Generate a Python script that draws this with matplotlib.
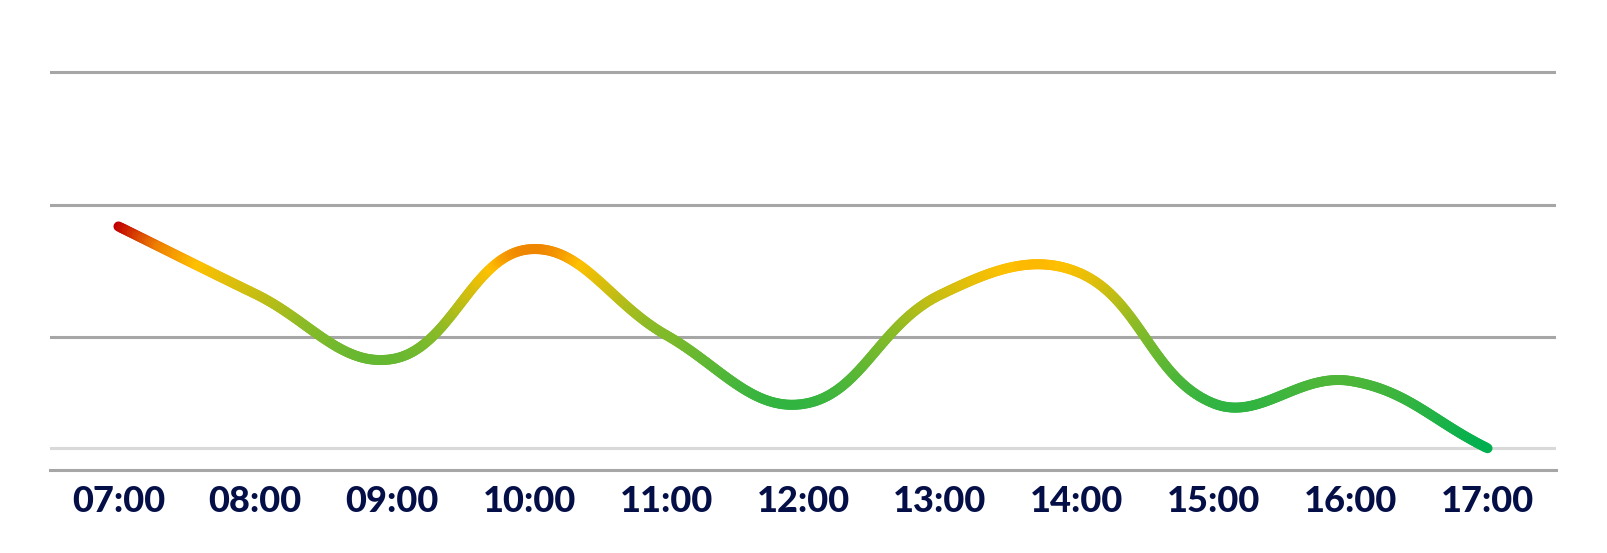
import numpy as np
import matplotlib
matplotlib.use("Agg")
import matplotlib.pyplot as plt
from matplotlib.collections import LineCollection
from matplotlib.colors import LinearSegmentedColormap, Normalize

hours = ['07:00', '08:00', '09:00', '10:00', '11:00', '12:00',
         '13:00', '14:00', '15:00', '16:00', '17:00']
values = [1.835, 1.327, 0.837, 1.663, 1.018, 0.499, 1.319, 1.494, 0.503, 0.672, 0.166]
grid_levels = [1, 2, 3]

tension = 0.4


def spline_points(px, py, t=0.4, n=60):
    # chart.js style cubic spline, computed in pixel space
    k = len(px)
    cps = []
    for i in range(k):
        prev = (px[max(i - 1, 0)], py[max(i - 1, 0)])
        cur = (px[i], py[i])
        nxt = (px[min(i + 1, k - 1)], py[min(i + 1, k - 1)])
        d01 = np.hypot(cur[0] - prev[0], cur[1] - prev[1])
        d12 = np.hypot(nxt[0] - cur[0], nxt[1] - cur[1])
        s01 = d01 / (d01 + d12) if d01 + d12 else 0
        s12 = d12 / (d01 + d12) if d01 + d12 else 0
        fa = t * s01
        fb = t * s12
        cp_prev = (cur[0] - fa * (nxt[0] - prev[0]), cur[1] - fa * (nxt[1] - prev[1]))
        cp_next = (cur[0] + fb * (nxt[0] - prev[0]), cur[1] + fb * (nxt[1] - prev[1]))
        cps.append((cp_prev, cp_next))
    xs, ys = [], []
    s = np.linspace(0, 1, n)
    for i in range(k - 1):
        p0 = np.array([px[i], py[i]])
        p1 = np.array(cps[i][1])
        p2 = np.array(cps[i + 1][0])
        p3 = np.array([px[i + 1], py[i + 1]])
        b = (np.outer((1 - s) ** 3, p0) + np.outer(3 * (1 - s) ** 2 * s, p1)
             + np.outer(3 * (1 - s) * s ** 2, p2) + np.outer(s ** 3, p3))
        if i > 0:
            b = b[1:]
        xs.extend(b[:, 0])
        ys.extend(b[:, 1])
    return np.array(xs), np.array(ys)


fig = plt.figure(figsize=(16.07, 5.53), dpi=100)
ax = fig.add_axes([50 / 1607, 1 - 470.3 / 553, 1506 / 1607, 470.3 / 553])
ax.set_xlim(-0.5, len(hours) - 0.5)
ax.set_ylim(0, 3.539)

for g in grid_levels:
    ax.axhline(g, color='#a6a6a6', lw=2.2, zorder=1)
ax.axhline(min(values), color='#d9d9d9', lw=2.2, zorder=1)

# smooth curve built in display coords, then mapped back to data
x = np.arange(len(hours))
pix = ax.transData.transform(np.column_stack([x, values]))
sx, sy = spline_points(pix[:, 0], pix[:, 1], tension)
curve = ax.transData.inverted().transform(np.column_stack([sx, sy]))

pts = curve.reshape(-1, 1, 2)
segs = np.concatenate([pts[:-1], pts[1:]], axis=1)
mid = (curve[:-1, 1] + curve[1:, 1]) / 2

cmap = LinearSegmentedColormap.from_list(
    'heat', [(0, '#00b050'), (0.55, '#8cbb26'), (0.82, '#ffc000'), (0.91, '#ed7d00'), (1, '#c00000')])
lc = LineCollection(segs, cmap=cmap, norm=Normalize(min(values), max(values)),
                    linewidth=7.2, capstyle='round', joinstyle='round', zorder=3)
lc.set_array(mid)
ax.add_collection(lc)

for side in ['top', 'right', 'left']:
    ax.spines[side].set_visible(False)
ax.spines['bottom'].set_color('#a6a6a6')
ax.spines['bottom'].set_linewidth(2.2)
ax.set_yticks([])
ax.set_xticks(x)
ax.set_xticklabels(hours, fontfamily='Lato', fontweight='black',
                   fontsize=26, color='#050f47')
ax.tick_params(axis='x', length=0, pad=10.5)

fig.savefig('out.png', dpi=100)
